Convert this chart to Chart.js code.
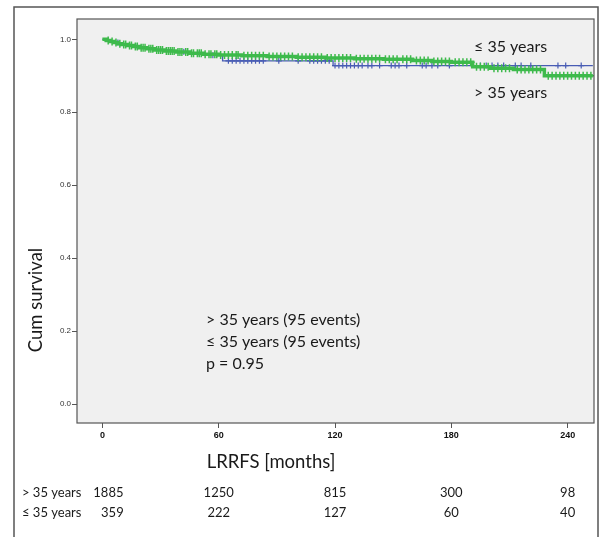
<!DOCTYPE html>
<html>
<head>
<meta charset="utf-8">
<script src="https://cdn.jsdelivr.net/npm/chart.js@4"></script>
<style>
    html, body { margin: 0; padding: 0; background: #fff; }
    #wrap { position: relative; width: 607px; height: 537px; }
</style>
</head>
<body>
<div id="wrap"><canvas id="kmChart" width="607" height="537"></canvas></div>
<script>
    // Kaplan-Meier steps (months, cum survival)
    const olderTimes = [0, 2, 4, 6, 8, 10, 13, 16, 19, 23, 27, 32, 38, 45, 52, 60, 72, 85, 100, 115, 130, 145, 160, 170, 180, 191, 200, 212, 228, 253];
    const olderSurv = [1.0, 0.997, 0.994, 0.991, 0.988, 0.986, 0.983, 0.980, 0.977, 0.974, 0.971, 0.968, 0.965, 0.962, 0.959, 0.957, 0.955, 0.953, 0.951, 0.949, 0.947, 0.945, 0.942, 0.939, 0.937, 0.925, 0.921, 0.917, 0.900, 0.900];
    const youngTimes = [0, 3, 6, 10, 15, 20, 28, 36, 45, 54, 62, 119, 253];
    const youngSurv = [1.0, 0.996, 0.991, 0.986, 0.981, 0.976, 0.971, 0.966, 0.961, 0.956, 0.941, 0.928, 0.928];

    // censored observations (months)
    const olderCensor = [3, 5, 7, 9, 11, 12, 14, 15, 17, 18, 20, 21, 22, 24, 25, 26, 28, 29, 30, 31, 33, 34, 35, 36, 37, 39, 40, 41, 43, 44, 46, 47, 49, 50, 51, 53, 55, 56, 58, 59, 61, 63, 65, 67, 69, 70, 73, 75, 77, 79, 81, 83, 86, 88, 90, 92, 94, 96, 98, 101, 103, 105, 107, 109, 111, 113, 116, 118, 120, 122, 124, 126, 128, 131, 133, 135, 137, 139, 141, 143, 146, 148, 150, 152, 155, 157, 159, 162, 164, 166, 168, 171, 173, 175, 177, 179, 182, 184, 186, 188, 190, 193, 195, 197, 199, 202, 204, 206, 208, 210, 214, 216, 218, 220, 222, 224, 226, 230, 232, 234, 236, 238, 240, 242, 244, 246, 248, 250, 252];
    const youngCensor = [8, 18, 30, 42, 50, 57, 65, 67, 69, 71, 73, 75, 77, 79, 81, 83, 91, 101, 107, 109, 111, 113, 115, 117, 120, 122, 124, 126, 128, 130, 132, 134, 137, 139, 143, 149, 151, 153, 157, 165, 167, 170, 173, 179, 195, 198, 201, 204, 207, 213, 216, 221, 235, 239, 247];

    const xTicks = [0, 60, 120, 180, 240];
    const yTicks = [0, 0.2, 0.4, 0.6, 0.8, 1.0];
    const riskOlder = [1885, 1250, 815, 300, 98];
    const riskYoung = [359, 222, 127, 60, 40];

    const GREEN = 'rgb(62,186,76)';
    const BLUE = 'rgb(72,92,180)';
    const TXT = "'Lato', 'Noto Sans', sans-serif";

    function pts(times, surv) {
        return times.map((t, i) => ({ x: t, y: surv[i] }));
    }

    // survival at time t from the step data
    function survAt(times, surv, t) {
        let s = surv[0];
        for (let i = 0; i < times.length; i++) {
            if (times[i] <= t) s = surv[i];
        }
        return s;
    }

    function censorPts(ct, times, surv) {
        return ct.map(t => ({ x: t, y: survAt(times, surv, t) }));
    }

    const decorPlugin = {
        id: 'decor',
        beforeDraw(chart) {
            const { ctx, chartArea } = chart;
            ctx.save();
            ctx.fillStyle = '#f0f0f0';
            ctx.fillRect(chartArea.left, chartArea.top, chartArea.right - chartArea.left, chartArea.bottom - chartArea.top);
            // outer frame
            ctx.strokeStyle = '#555';
            ctx.lineWidth = 1.5;
            ctx.beginPath();
            ctx.moveTo(14, 540);
            ctx.lineTo(14, 7);
            ctx.lineTo(598, 7);
            ctx.lineTo(598, 540);
            ctx.stroke();
            ctx.restore();
        },
        afterDraw(chart) {
            const { ctx, chartArea, scales } = chart;
            const x = scales.x;
            ctx.save();
            // plot border
            ctx.strokeStyle = '#555';
            ctx.lineWidth = 1.2;
            ctx.strokeRect(chartArea.left, chartArea.top, chartArea.right - chartArea.left, chartArea.bottom - chartArea.top);

            ctx.fillStyle = '#1a1a1a';
            ctx.textBaseline = 'middle';
            ctx.font = '16px ' + TXT;
            ctx.textAlign = 'left';
            ctx.fillText('≤ 35 years', 474, 47);
            ctx.fillText('> 35 years', 474, 93);
            ctx.fillText('> 35 years (95 events)', 206, 320);
            ctx.fillText('≤ 35 years (95 events)', 206, 342);
            ctx.fillText('p = 0.95', 206, 364);

            // axis titles
            ctx.font = '18.5px ' + TXT;
            ctx.textAlign = 'center';
            ctx.fillText('LRRFS [months]', 271, 462);
            ctx.save();
            ctx.translate(36, 300);
            ctx.rotate(-Math.PI / 2);
            ctx.fillText('Cum survival', 0, 0);
            ctx.restore();

            // numbers at risk
            ctx.font = '13px ' + TXT;
            ctx.textAlign = 'left';
            ctx.fillText('> 35 years', 22, 493);
            ctx.fillText('≤ 35 years', 22, 513);
            ctx.textAlign = 'center';
            xTicks.forEach((t, i) => {
                const px = x.getPixelForValue(t) + (i === 0 ? 6 : 0);
                ctx.fillText(String(riskOlder[i]), px, 493);
                ctx.fillText(String(riskYoung[i]), px + (i === 0 ? 4 : 0), 513);
            });
            ctx.restore();
        }
    };

    const ctx = document.getElementById('kmChart').getContext('2d');
    new Chart(ctx, {
        type: 'scatter',
        data: {
            datasets: [{
                label: '≤ 35 years',
                data: pts(youngTimes, youngSurv),
                showLine: true,
                stepped: 'before',
                borderColor: BLUE,
                borderWidth: 1.3,
                pointRadius: 0,
                order: 4
            }, {
                label: '≤ 35 years censored',
                data: censorPts(youngCensor, youngTimes, youngSurv),
                showLine: false,
                pointStyle: 'cross',
                pointRadius: 3,
                borderColor: BLUE,
                borderWidth: 1.2,
                order: 3
            }, {
                label: '> 35 years',
                data: pts(olderTimes, olderSurv),
                showLine: true,
                stepped: 'before',
                borderColor: GREEN,
                borderWidth: 3.5,
                pointRadius: 0,
                order: 2
            }, {
                label: '> 35 years censored',
                data: censorPts(olderCensor, olderTimes, olderSurv),
                showLine: false,
                pointStyle: 'cross',
                pointRadius: 4,
                borderColor: GREEN,
                borderWidth: 1.5,
                order: 1
            }]
        },
        options: {
            responsive: false,
            animation: false,
            layout: { padding: { top: 19, right: 13, left: 0, bottom: 0 } },
            plugins: {
                legend: { display: false },
                tooltip: { enabled: false }
            },
            scales: {
                x: {
                    type: 'linear',
                    min: -13.1,
                    max: 253.6,
                    afterFit(s) { s.height = 114; },
                    afterBuildTicks(s) { s.ticks = xTicks.map(v => ({ value: v })); },
                    grid: { drawOnChartArea: false, tickLength: 5, color: '#555' },
                    border: { display: false },
                    ticks: {
                        color: '#111',
                        padding: 2,
                        maxRotation: 0,
                        font: { family: "'Liberation Sans Narrow', 'Liberation Sans', Arial", size: 9, weight: 'bold' },
                        callback: v => String(v)
                    }
                },
                y: {
                    min: -0.052,
                    max: 1.0557,
                    afterFit(s) { s.width = 77; },
                    afterBuildTicks(s) { s.ticks = yTicks.map(v => ({ value: v })); },
                    grid: { drawOnChartArea: false, tickLength: 5, color: '#555' },
                    border: { display: false },
                    ticks: {
                        color: '#333',
                        padding: 1,
                        font: { family: "'Liberation Sans', Arial", size: 8 },
                        callback: v => v.toFixed(1)
                    }
                }
            }
        },
        plugins: [decorPlugin]
    });
</script>
</body>
</html>
